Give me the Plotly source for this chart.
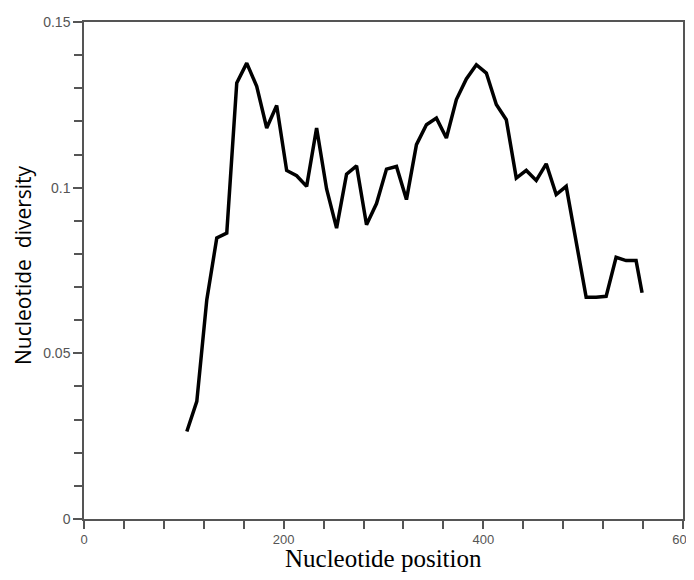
import plotly.graph_objects as go

# Nucleotide position (window midpoints) and diversity values
positions = [103, 113, 123, 133, 143, 153, 163, 173, 183, 193,
             203, 213, 223, 233, 243, 253, 263, 273, 283, 293,
             303, 313, 323, 333, 343, 353, 363, 373, 383, 393,
             403, 413, 423, 433, 443, 453, 463, 473, 483, 493,
             503, 513, 523, 533, 543, 553, 559]
diversity = [0.0264, 0.0355, 0.0662, 0.0848, 0.0863, 0.1316, 0.1376, 0.1306, 0.1180, 0.1248,
             0.1052, 0.1036, 0.1004, 0.1180, 0.0996, 0.0878, 0.1041, 0.1066, 0.0888, 0.0952,
             0.1056, 0.1064, 0.0964, 0.1130, 0.1190, 0.1210, 0.1150, 0.1266, 0.1328, 0.1371,
             0.1346, 0.1251, 0.1205, 0.1029, 0.1052, 0.1022, 0.1072, 0.0979, 0.1004, 0.0843,
             0.0669, 0.0669, 0.0672, 0.0790, 0.0780, 0.0780, 0.0683]

x_ticks = [0, 200, 400, 600]
y_ticks = [0, 0.05, 0.1, 0.15]
y_tick_text = ["0", "0.05", "0.1", "0.15"]
x_title = "Nucleotide position"
y_title = "Nucleotide  diversity"

fig = go.Figure()
fig.add_trace(go.Scatter(
    x=positions, y=diversity, mode="lines",
    line=dict(color="black", width=3.5), hoverinfo="skip", showlegend=False,
))

axis_color = "#555555"
y_tick_font = dict(family="Arial, Liberation Sans, sans-serif", size=14, color="#555555")
x_tick_font = dict(family="Arial, Liberation Sans, sans-serif", size=13, color="#555555")

fig.update_layout(
    width=686, height=564,
    margin=dict(l=76, r=11, t=14, b=53),
    paper_bgcolor="white", plot_bgcolor="white",
    xaxis=dict(
        range=[0, 600], tickvals=x_ticks, ticktext=[str(v) for v in x_ticks],
        showgrid=False, zeroline=False, automargin=False, ticklabeloverflow="allow",
        showline=True, linecolor=axis_color, linewidth=1.5, mirror=True,
        ticks="outside", ticklen=8, tickcolor=axis_color, tickwidth=1.5,
        minor=dict(dtick=40, tick0=0, ticks="outside", ticklen=8, tickcolor=axis_color, tickwidth=1.5),
        tickfont=x_tick_font,
    ),
    yaxis=dict(
        range=[0, 0.15], tickvals=y_ticks, ticktext=y_tick_text,
        showgrid=False, zeroline=False, automargin=False, ticklabeloverflow="allow",
        showline=True, linecolor=axis_color, linewidth=1.5, mirror=True,
        ticks="outside", ticklen=9, tickcolor=axis_color, tickwidth=1.5,
        minor=dict(dtick=0.01, tick0=0, ticks="outside", ticklen=8, tickcolor=axis_color, tickwidth=1.5),
        tickfont=y_tick_font,
    ),
    annotations=[
        dict(text=x_title, xref="paper", yref="paper", x=0.5, y=0,
             xanchor="center", yanchor="top", yshift=-24, showarrow=False,
             font=dict(family="Liberation Serif, Times New Roman, serif", size=25, color="black")),
        dict(text=y_title, xref="paper", yref="paper", x=0, y=0.511, textangle=-90,
             xanchor="center", yanchor="middle", xshift=-61, showarrow=False,
             font=dict(family="Open Sans, Noto Sans, sans-serif", size=21, color="black")),
    ],
)

fig.write_html("out.html")
